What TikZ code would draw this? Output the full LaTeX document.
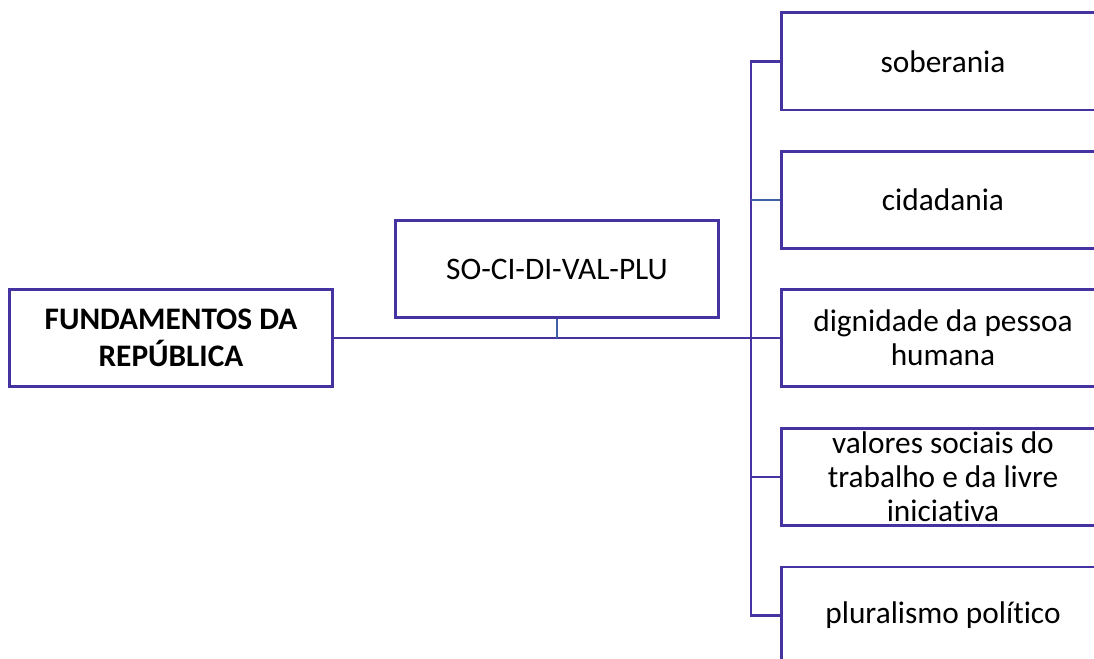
\documentclass[tikz,border=0pt]{standalone}
\usepackage{fontspec}
\setmainfont{Carlito}[Ligatures={NoCommon,TeX}]
\definecolor{boxc}{RGB}{68,51,160}
\definecolor{linkc}{RGB}{63,95,168}
\begin{document}
\begin{tikzpicture}[x=0.75pt,y=-0.75pt,
  box/.style={draw=boxc,line width=2pt,minimum width=242pt,minimum height=73pt,inner sep=0pt,align=center,font=\fontsize{23.5}{25.5}\selectfont},
  conn/.style={draw=boxc,line width=2pt},
  connb/.style={draw=linkc,line width=2pt}]
\clip (0,0) rectangle (1094,659);
\useasboundingbox (0,0) rectangle (1094,659);
\fill[white] (0,0) rectangle (1094,659);
\node[box,font=\fontsize{23.5}{27.5}\selectfont\bfseries] (fund) at (171,338) {FUNDAMENTOS DA\\REPÚBLICA};
\node[box] (so) at (557,269) {SO-CI-DI-VAL-PLU};
\node[box] (sob) at (943,61.5) {soberania};
\node[box] (cid) at (943,200) {cidadania};
\node[box] (dig) at (943,338) {dignidade da pessoa\\humana};
\node[box] (val) at (943,477) {valores sociais do\\trabalho e da livre\\iniciativa};
\node[box] (plu) at (943,615.5) {pluralismo político};
\coordinate (tr) at (751,338);
\draw[conn] (fund.east) -- (dig.west);
\draw[connb] (so.south) -- (so.south |- fund.east);
\draw[conn] (sob.west) -- (sob.west -| tr) -- (plu.west -| tr) -- (plu.west);
\draw[connb] (cid.west) -- (cid.west -| tr);
\draw[conn] (val.west) -- (val.west -| tr);
\end{tikzpicture}
\end{document}
